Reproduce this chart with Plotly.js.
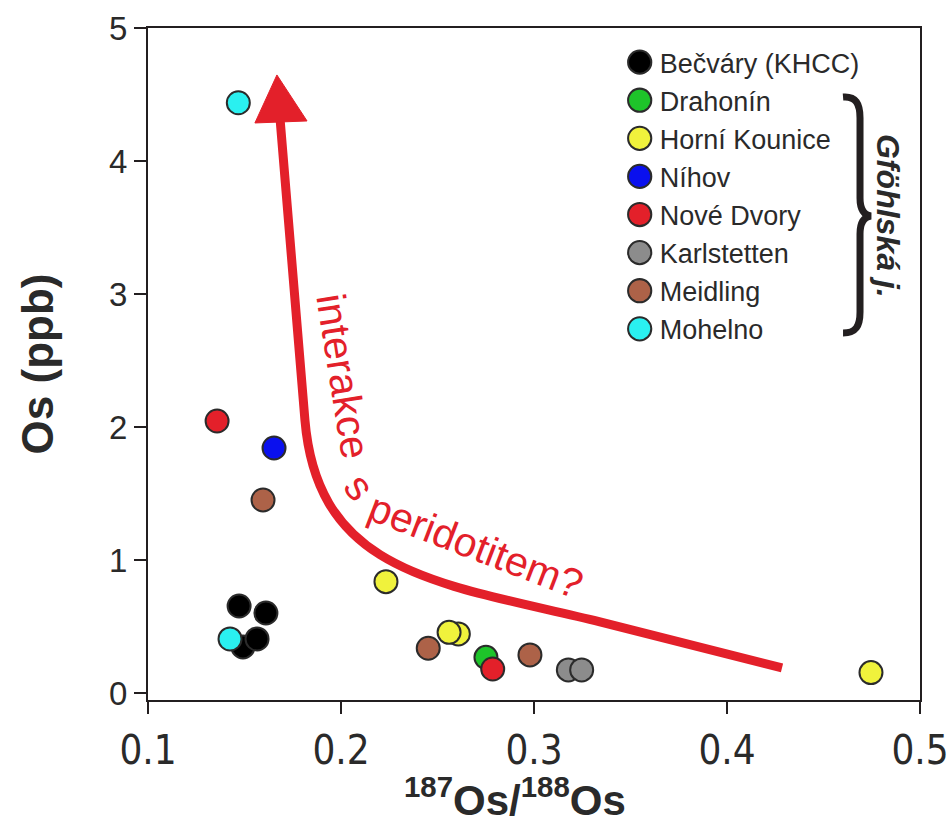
<!DOCTYPE html>
<html>
<head>
<meta charset="utf-8">
<script src="https://cdn.plot.ly/plotly-3.0.1.min.js"></script>
<style>html,body{margin:0;padding:0;background:#fff;}#chart{width:950px;height:829px;}</style>
</head>
<body>
<div id="chart"></div>
<script>
// ---- data ----
const seriesNames = ["Bečváry (KHCC)", "Drahonín", "Horní Kounice", "Níhov", "Nové Dvory", "Karlstetten", "Meidling", "Mohelno"];
const seriesColors = ["#000000", "#1ec42a", "#f0f23c", "#0a10ee", "#e3202a", "#8c8c8c", "#ad6248", "#2af0f0"];
const becvaryX = [0.1472, 0.1611, 0.1492, 0.1565];
const becvaryY = [0.654, 0.601, 0.346, 0.406];
const drahoninX = [0.2751];
const drahoninY = [0.268];
const horniKouniceX = [0.2233, 0.2608, 0.2560, 0.4746];
const horniKouniceY = [0.837, 0.444, 0.456, 0.153];
const nihovX = [0.1653];
const nihovY = [1.842];
const noveDvoryX = [0.1358, 0.2786];
const noveDvoryY = [2.045, 0.180];
const karlstettenX = [0.3178, 0.3247];
const karlstettenY = [0.173, 0.173];
const meidlingX = [0.1596, 0.2452, 0.2979];
const meidlingY = [1.451, 0.336, 0.286];
const mohelnoX = [0.1468, 0.1425];
const mohelnoY = [4.438, 0.406];
const xTickVals = [0.1, 0.2, 0.3, 0.4, 0.5];
const yTickVals = [0, 1, 2, 3, 4, 5];

const seriesX = [becvaryX, drahoninX, horniKouniceX, nihovX, noveDvoryX, karlstettenX, meidlingX, mohelnoX];
const seriesY = [becvaryY, drahoninY, horniKouniceY, nihovY, noveDvoryY, karlstettenY, meidlingY, mohelnoY];

const traces = seriesNames.map((name, i) => ({
  type: 'scatter', mode: 'markers', name: name,
  x: seriesX[i], y: seriesY[i],
  marker: {size: 23, color: seriesColors[i], line: {color: '#2b2b2b', width: 2}},
  hoverinfo: 'x+y+name'
}));

// ---- layout helpers (pixel -> paper, decorations only) ----
const L = 148, R = 920, T = 28, B = 700;
function px(xp){ return ((xp - L) / (R - L)).toFixed(4); }
function py(yp){ return ((B - yp) / (B - T)).toFixed(4); }
function P(xp, yp){ return px(xp) + ',' + py(yp); }

const red = '#e3202a';
const axisColor = '#231f20';
const textColor = '#2a2a2a';
const mainFont = 'Liberation Sans, Arial, sans-serif';
const narrowFont = 'Liberation Sans Narrow, Arial Narrow, DejaVu Sans Condensed, Liberation Sans, sans-serif';

const bracePath = 'M ' + P(843, 97) + ' C ' + P(856, 96) + ' ' + P(860, 104) + ' ' + P(860, 118) +
  ' L ' + P(860, 198) + ' C ' + P(860, 210) + ' ' + P(864, 215) + ' ' + P(871, 216) +
  ' C ' + P(864, 217) + ' ' + P(860, 222) + ' ' + P(860, 234) +
  ' L ' + P(860, 312) + ' C ' + P(860, 326) + ' ' + P(856, 333) + ' ' + P(843, 333);

const layout = {
  width: 950, height: 829,
  margin: {l: L, r: 950 - R, t: T, b: 829 - B, pad: 0},
  paper_bgcolor: '#ffffff', plot_bgcolor: '#ffffff',
  font: {family: mainFont, color: axisColor},
  showlegend: true,
  legend: {
    x: 0.611, y: 0.985, xanchor: 'left', yanchor: 'top',
    bgcolor: 'rgba(0,0,0,0)', borderwidth: 0,
    font: {family: mainFont, size: 27, color: textColor},
    itemclick: false, itemdoubleclick: false
  },
  xaxis: {
    range: [0.1, 0.5], tickvals: xTickVals, ticktext: xTickVals.map(v => v.toFixed(1)),
    showgrid: false, zeroline: false,
    showline: true, linecolor: axisColor, linewidth: 2, mirror: true,
    ticks: 'outside', ticklen: 12, tickwidth: 2, tickcolor: axisColor,
    ticklabelstandoff: 2,
    tickfont: {family: narrowFont, size: 40, color: textColor},
    fixedrange: true
  },
  yaxis: {
    range: [-0.053, 5], tickvals: yTickVals,
    showgrid: false, zeroline: false,
    showline: true, linecolor: axisColor, linewidth: 2, mirror: true,
    ticks: 'outside', ticklen: 12, tickwidth: 2, tickcolor: axisColor,
    tickfont: {family: mainFont, size: 33, color: textColor},
    title: {text: 'Os (ppb)', font: {family: mainFont, size: 44, weight: 'bold', color: textColor}, standoff: 42},
    fixedrange: true
  },
  shapes: [
    {type: 'path', xref: 'x', yref: 'y', layer: 'below',
     path: 'M 0.4285,0.188 L 0.3342,0.534 C 0.2513,0.827 0.1881,0.887 0.1813,2.053 L 0.1684,4.32',
     line: {color: red, width: 9}},
    {type: 'path', xref: 'x', yref: 'y', layer: 'below',
     path: 'M 0.1554,4.286 L 0.1668,4.647 L 0.1824,4.301 Z',
     fillcolor: red, line: {color: red, width: 1}},
    {type: 'path', xref: 'paper', yref: 'paper', path: bracePath,
     line: {color: axisColor, width: 7}}
  ],
  annotations: [
    {xref: 'paper', yref: 'paper', x: px(515), y: py(797), text: '<sup>187</sup>Os/<sup>188</sup>Os', showarrow: false,
     font: {family: mainFont, size: 42, weight: 'bold', color: textColor}, xanchor: 'center', yanchor: 'middle'},
    {xref: 'x', yref: 'y', x: 0.2010, y: 2.383, text: 'interakce', showarrow: false, textangle: 81,
     font: {family: mainFont, size: 41, color: red}, xanchor: 'center', yanchor: 'middle'},
    {xref: 'x', yref: 'y', x: 0.2095, y: 1.549, text: 's', showarrow: false, textangle: 52,
     font: {family: mainFont, size: 41, color: red}, xanchor: 'center', yanchor: 'middle'},
    {xref: 'x', yref: 'y', x: 0.2700, y: 1.105, text: 'peridotitem?', showarrow: false, textangle: 21,
     font: {family: mainFont, size: 41, color: red}, xanchor: 'center', yanchor: 'middle'},
    {xref: 'paper', yref: 'paper', x: px(888), y: py(216), text: 'Gföhlská j.', showarrow: false, textangle: 90,
     font: {family: mainFont, size: 32, weight: 'bold', style: 'italic', color: textColor}, xanchor: 'center', yanchor: 'middle'}
  ]
};

Plotly.newPlot('chart', traces, layout, {displayModeBar: false}).then(function(gd){
  // enlarge legend symbols to match the reference's marker size
  gd.querySelectorAll('.legend .legendpoints path.scatterpts').forEach(function(p){
    p.setAttribute('transform', (p.getAttribute('transform') || '') + ' scale(1.45)');
    p.style.strokeWidth = '1.4px';
  });
});
</script>
</body>
</html>
